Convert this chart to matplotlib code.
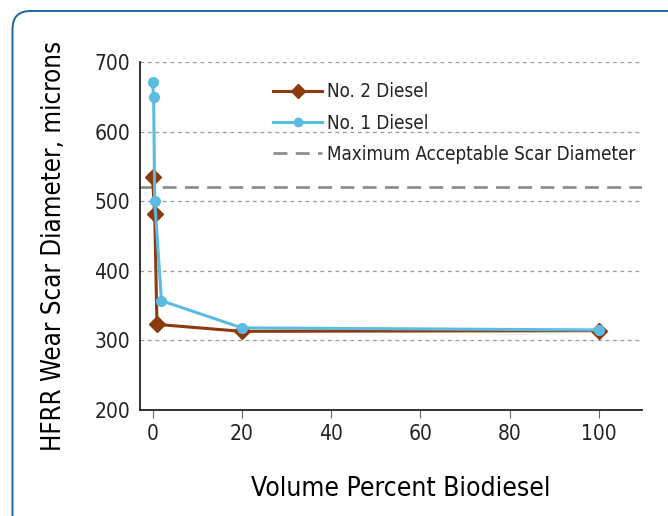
import matplotlib
matplotlib.use("Agg")
import matplotlib.pyplot as plt
from matplotlib.patches import FancyBboxPatch

plt.rcParams['font.family'] = ['DejaVu Sans']
plt.rcParams['font.stretch'] = 'condensed'

no2_x = [0, 0.5, 1, 20, 100]
no2_y = [535, 481, 323, 313, 314]
no1_x = [0, 0.25, 0.5, 2, 20, 100]
no1_y = [671, 649, 500, 357, 318, 315]
max_scar = 520
yticks = [200, 300, 400, 500, 600, 700]
xticks = [0, 20, 40, 60, 80, 100]

fig = plt.figure(figsize=(6.68, 5.16), dpi=100)
frame = FancyBboxPatch((0.125, -0.3), 7.0, 5.35,
                       boxstyle="round,pad=0,rounding_size=0.18",
                       transform=fig.dpi_scale_trans, fill=False,
                       edgecolor="#1f64a0", linewidth=1.4)
fig.patches.append(frame)

ax = fig.add_axes([140/668, 1-410/516, 502/668, 348/516])
ax.set_xlim(-2.8, 109.6)
ax.set_ylim(200, 700)
for y in [300, 400, 500, 600, 700]:
    ax.axhline(y, color="#999999", lw=0.9, ls=(0, (3, 3)), zorder=1)
ax.plot(no2_x, no2_y, color="#8c3a0e", lw=2.2, marker="D", ms=8,
        label="No. 2 Diesel", zorder=3)
ax.plot(no1_x, no1_y, color="#5bbbe3", lw=2.2, marker="o", ms=7,
        label="No. 1 Diesel", zorder=4)
ax.axhline(max_scar, color="#8f8f8f", lw=2, ls=(0, (5, 3)),
           label="Maximum Acceptable Scar Diameter", zorder=2)

for s in ["top", "right"]:
    ax.spines[s].set_visible(False)
ax.spines["left"].set_color("#222222")
ax.spines["bottom"].set_color("#222222")
ax.spines["left"].set_linewidth(1.3)
ax.spines["bottom"].set_linewidth(1.3)
ax.set_yticks(yticks)
ax.set_xticks(xticks)
ax.tick_params(axis="y", length=0, pad=7, labelsize=15, labelcolor="#222222")
ax.tick_params(axis="x", length=6, color="#666666", pad=4, labelsize=15, labelcolor="#222222")
ax.set_ylabel("HFRR Wear Scar Diameter, microns", fontsize=18.5, color="#000000")
ax.set_xlabel("Volume Percent Biodiesel", fontsize=19, color="#000000")
ax.yaxis.set_label_coords(-0.146, 0.471)
ax.xaxis.set_label_coords(0.52, -0.19)
leg = ax.legend(loc="upper left", bbox_to_anchor=(0.232, 0.99), frameon=False,
                fontsize=13.5, handlelength=2.6, handletextpad=0.25, labelspacing=0.65,
                labelcolor="#222222", markerscale=0.85)
fig.savefig("out.png", dpi=100)
